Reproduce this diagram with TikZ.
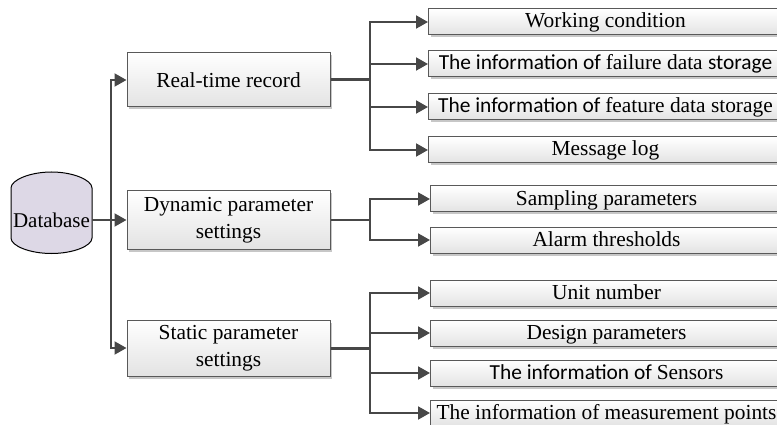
\documentclass[tikz,border=0pt]{standalone}
\usepackage{fontspec}
\setmainfont{Liberation Serif}
\newfontfamily\calf{Carlito}
\usetikzlibrary{arrows.meta,shadows}
\definecolor{dbfill}{RGB}{221,216,230}
\tikzset{
 x=1pt,y=-1pt,
 basebox/.style={rectangle,draw=black!65,line width=1pt,top color=white,bottom color=black!11,
   drop shadow={shadow xshift=2pt,shadow yshift=-2.5pt,fill=black!22,opacity=1},
   inner sep=0pt,align=center,font=\fontsize{21.4}{27.5}\selectfont},
 midbox/.style={basebox,minimum width=203pt},
 leaf/.style={basebox,anchor=west,minimum height=26pt,text height=15pt,text depth=3pt,
   execute at begin node={\hspace*{5pt}}},
 leafa/.style={leaf,minimum width=349pt},
 leafb/.style={leaf,minimum width=347pt},
 conn/.style={draw=black!72,line width=2pt},
 trunk/.style={draw=black!72,line width=3pt},
 arr/.style={conn,-{Triangle[length=12pt,width=13pt]}},
}
\begin{document}
\begin{tikzpicture}
\useasboundingbox (0,0) rectangle (777,425);
\clip (0,0) rectangle (777,425);
% cylinder
\path[fill=dbfill,draw=black,line width=1pt] (11,188)
  .. controls (11,180) and (30,172) .. (51.5,172)
  .. controls (73,172) and (92,180) .. (92,188)
  -- (92,238)
  .. controls (92,246) and (73,253.5) .. (51.5,253.5)
  .. controls (30,253.5) and (11,246) .. (11,238) -- cycle;
\node[inner sep=0pt,minimum width=81pt,minimum height=30pt,font=\fontsize{21}{24}\selectfont] (db) at (51.5,220) {Database};
% mid boxes
\node[midbox,minimum height=54pt] (rt) at (228.5,80) {Real-time record};
\node[midbox,minimum height=58pt] (dy) at (228.5,220) {Dynamic parameter\\settings};
\node[midbox,minimum height=56pt] (st) at (228.5,348) {Static parameter\\settings};
% leaves
\node[leafa] (a1) at (428,22) {Working condition};
\node[leafa] (a2) at (428,64) {{\calf The information of }failure data {\calf storage}};
\node[leafa] (a3) at (428,107) {{\calf The information of }feature data storage};
\node[leafa] (a4) at (428,150) {Message log};
\node[leafb] (b1) at (430,199) {Sampling parameters};
\node[leafb] (b2) at (430,240) {Alarm thresholds};
\node[leafb] (c1) at (430,293) {Unit number};
\node[leafb] (c2) at (430,333) {Design parameters};
\node[leafb] (c3) at (430,373) {{\calf The information of }Sensors};
\node[leafb] (c4) at (430,413) {The information of measurement points};
% junctions
\coordinate (j0) at (111,220);
\coordinate (j1) at (370,80);
\coordinate (j2) at (370,220);
\coordinate (j3) at (370,348);
% connectors
\draw[conn] (db.east) -- (j0);
\draw[arr] (j0) -- (dy.west);
\draw[arr] (j0) |- (rt.west);
\draw[arr] (j0) |- (st.west);
\draw[trunk] (rt.east) -- (j1);
\draw[conn] (dy.east) -- (j2);
\draw[trunk] (st.east) -- (j3);
\foreach \n in {a1,a2,a3,a4}{\draw[arr] (j1) |- (\n.west);}
\foreach \n in {b1,b2}{\draw[arr] (j2) |- (\n.west);}
\foreach \n in {c1,c2,c3,c4}{\draw[arr] (j3) |- (\n.west);}
\end{tikzpicture}
\end{document}
